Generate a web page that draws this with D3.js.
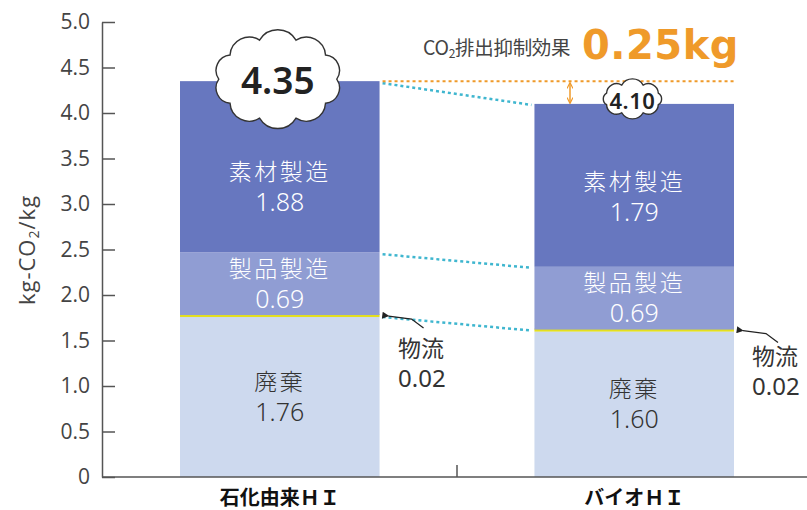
<!DOCTYPE html>
<html>
<head>
<meta charset="utf-8">
<script src="https://cdn.jsdelivr.net/npm/d3@7"></script>
<style>
  body { margin: 0; background: #fff; }
  svg { display: block; }
</style>
</head>
<body>
<div id="chart"></div>
<script>
// data
const categories = ['石化由来ＨＩ', 'バイオＨＩ'];
const stages = ['廃棄', '物流', '製品製造', '素材製造'];
const haiki = [1.76, 1.60];
const butsuryu = [0.02, 0.02];
const seihin = [0.69, 0.69];
const sozai = [1.88, 1.79];
const totals = [4.35, 4.10];
const reduction = 0.25;
const yTicks = [0, 0.5, 1.0, 1.5, 2.0, 2.5, 3.0, 3.5, 4.0, 4.5, 5.0];

const rows = categories.map((c, i) => ({
  cat: c, '廃棄': haiki[i], '物流': butsuryu[i], '製品製造': seihin[i], '素材製造': sozai[i], total: totals[i]
}));

const colors = { '廃棄': '#cdd9ee', '物流': '#e4df1e', '製品製造': '#909dd3', '素材製造': '#6777bf' };
const textColors = { '廃棄': '#333', '製品製造': '#fff', '素材製造': '#fff' };

const W = 807, H = 510;
const svg = d3.select('#chart').append('svg').attr('width', W).attr('height', H);

const defs = svg.append('defs');
defs.append('marker').attr('id', 'arrBlack').attr('viewBox', '0 0 10 10')
  .attr('refX', 1).attr('refY', 5).attr('markerWidth', 9).attr('markerHeight', 7)
  .attr('orient', 'auto-start-reverse').attr('markerUnits', 'userSpaceOnUse')
  .append('path').attr('d', 'M0,5 L10,0 L10,10 Z').attr('fill', '#222');
defs.append('marker').attr('id', 'arrOrange').attr('viewBox', '0 0 10 10')
  .attr('refX', 9).attr('refY', 5).attr('markerWidth', 7).attr('markerHeight', 6)
  .attr('orient', 'auto-start-reverse').attr('markerUnits', 'userSpaceOnUse')
  .append('path').attr('d', 'M0,0 L10,5 L0,10').attr('fill', 'none').attr('stroke', '#ef9a2a').attr('stroke-width', 2);

const y = d3.scaleLinear().domain([0, 5]).range([477, 22]);
const x = d3.scaleBand().domain(categories).range([180, 734]).paddingInner(0.437).paddingOuter(0);
const axisX = 102;

const series = d3.stack().keys(stages)(rows);

// bars
const layers = svg.append('g').selectAll('g').data(series).join('g')
  .attr('fill', d => colors[d.key]);
layers.selectAll('rect').data(d => d.map(v => Object.assign({ key: d.key }, v))).join('rect')
  .attr('x', d => x(d.data.cat))
  .attr('width', x.bandwidth())
  .attr('y', d => d.key === '物流' ? y(d[1]) - 1 : y(d[1]))
  .attr('height', d => d.key === '物流' ? Math.max(3, y(d[0]) - y(d[1]) + 1) : y(d[0]) - y(d[1]));

// cyan connectors between bars
const sLev = series.map(s => s.map(v => v[1]));
const connectorLevels = [3, 2, 1].map(k => sLev[k]);
svg.append('g').selectAll('line').data(connectorLevels).join('line')
  .attr('x1', x(categories[0]) + x.bandwidth() + 3)
  .attr('x2', x(categories[1]) - 3)
  .attr('y1', d => y(d[0]) + 2)
  .attr('y2', d => y(d[1]) + 1)
  .attr('stroke', '#3fb6cf').attr('stroke-width', 2.5).attr('stroke-dasharray', '3,3');

// segment labels
const labelOffset = { '廃棄': 0, '製品製造': 0, '素材製造': 20 };
const labelData = [];
series.forEach(s => {
  if (s.key === '物流') return;
  s.forEach((v, i) => {
    labelData.push({ key: s.key, val: v[1] - v[0], cat: categories[i], mid: (y(v[0]) + y(v[1])) / 2 + labelOffset[s.key] + (s.key === '素材製造' && i === 1 ? -8 : 0) });
  });
});
const lab = svg.append('g').selectAll('g').data(labelData).join('g')
  .attr('transform', d => `translate(${x(d.cat) + x.bandwidth() / 2},${d.mid})`);
lab.append('text').attr('y', -7).attr('text-anchor', 'middle')
  .attr('font-family', '"Noto Sans CJK JP"').attr('font-weight', 300)
  .attr('font-size', 23).attr('letter-spacing', 2.5).attr('fill', d => textColors[d.key])
  .text(d => d.key);
lab.append('text').attr('y', 24).attr('text-anchor', 'middle')
  .attr('font-family', '"Noto Sans"').attr('font-weight', 300)
  .attr('font-size', 25).attr('fill', d => textColors[d.key])
  .text(d => d.val.toFixed(2));

// 物流 callouts
const logiTop = series[1].map(v => y(v[1]) + 1);
const callouts = [
  { cat: categories[0], yy: logiTop[0], lx: 398, ly: 357 },
  { cat: categories[1], yy: logiTop[1], lx: 752, ly: 365 }
];
callouts.forEach((c, i) => {
  const x0 = x(c.cat) + x.bandwidth() + 2;
  svg.append('path')
    .attr('d', `M${x0 + 7},${c.yy} L${x0 + 30},${c.yy + 3} L${x0 + 42},${c.yy + 12}`)
    .attr('fill', 'none').attr('stroke', '#222').attr('stroke-width', 1.3)
    .attr('marker-start', 'url(#arrBlack)');
  svg.append('text').attr('x', c.lx).attr('y', c.ly)
    .attr('font-family', '"Noto Sans CJK JP"').attr('font-size', 23).attr('fill', '#333')
    .text(stages[1]);
  svg.append('text').attr('x', c.lx).attr('y', c.ly + 30)
    .attr('font-family', '"Noto Sans"').attr('font-size', 24).attr('fill', '#333')
    .text(butsuryu[i].toFixed(2));
});

// orange reduction line + arrow
const xR0 = x(categories[0]) + x.bandwidth() + 3;
const xR1 = x(categories[1]) + x.bandwidth();
svg.append('line').attr('x1', xR0).attr('x2', xR1)
  .attr('y1', y(totals[0])).attr('y2', y(totals[0]))
  .attr('stroke', '#ef9a2a').attr('stroke-width', 2).attr('stroke-dasharray', '3,3');
svg.append('line').attr('x1', 570).attr('x2', 570)
  .attr('y1', y(totals[0]) + 2).attr('y2', y(totals[1]) - 1)
  .attr('stroke', '#ef9a2a').attr('stroke-width', 1.5)
  .attr('marker-start', 'url(#arrOrange)').attr('marker-end', 'url(#arrOrange)');

const ann = svg.append('text').attr('x', 423).attr('y', 55)
  .attr('font-family', '"Noto Sans CJK JP"').attr('font-size', 19.5).attr('letter-spacing', -0.3).attr('fill', '#444');
ann.append('tspan').text('CO');
ann.append('tspan').attr('font-size', 12).attr('dy', 3).text('2');
ann.append('tspan').attr('dy', -3).text('排出抑制効果');
svg.append('text').attr('x', 582).attr('y', 59)
  .attr('font-family', '"DejaVu Sans"').attr('font-weight', 'bold').attr('font-size', 40)
  .attr('letter-spacing', 0.5)
  .attr('fill', '#ef9a2a').text(reduction.toFixed(2) + 'kg');

// clouds
function cloudPath(cx, cy, rx, ry, n, rot) {
  const pts = d3.range(n).map(i => {
    const a = rot + i * 2 * Math.PI / n;
    return [cx + rx * Math.cos(a), cy + ry * Math.sin(a)];
  });
  let d = `M${pts[0][0]},${pts[0][1]}`;
  pts.forEach((p, i) => {
    const q = pts[(i + 1) % n];
    const r = Math.hypot(q[0] - p[0], q[1] - p[1]) * 0.58;
    d += ` A${r},${r} 0 0 1 ${q[0]},${q[1]}`;
  });
  return d + 'Z';
}
const clouds = [
  { cx: x(categories[0]) + x.bandwidth() / 2 - 2, cy: y(totals[0]) - 2, rx: 59, ry: 41, n: 10, fs: 37, ls: 0 },
  { cx: x(categories[1]) + 98, cy: y(totals[1]) - 5, rx: 28, ry: 15, n: 8, fs: 22, ls: 0.5 }
];
clouds.forEach((c, i) => {
  svg.append('path').attr('d', cloudPath(c.cx, c.cy, c.rx, c.ry, c.n, -Math.PI / 2 + Math.PI / c.n))
    .attr('fill', '#fff').attr('stroke', '#333').attr('stroke-width', 1.4);
  svg.append('text').attr('x', c.cx).attr('y', c.cy + c.fs * 0.36 + 2)
    .attr('text-anchor', 'middle').attr('letter-spacing', c.ls)
    .attr('font-family', '"Noto Sans"').attr('font-weight', 600).attr('font-size', c.fs)
    .attr('fill', '#222').text(totals[i].toFixed(2));
});

// y axis
const yAxis = svg.append('g').attr('transform', `translate(${axisX},0)`)
  .call(d3.axisLeft(y).tickValues(yTicks).tickSizeInner(-13).tickSizeOuter(0).tickPadding(12)
    .tickFormat(d => d === 0 ? '0' : d3.format('.1f')(d)));
yAxis.select('.domain').attr('stroke', '#555').attr('stroke-width', 1.5);
yAxis.selectAll('.tick line').attr('stroke', '#555').attr('stroke-width', 1.5);
yAxis.selectAll('.tick text').attr('font-family', '"Open Sans"').attr('font-weight', 500)
  .attr('font-size', 21).attr('fill', '#444');

// x axis baseline + divider
svg.append('line').attr('x1', axisX).attr('x2', W).attr('y1', y(0)).attr('y2', y(0))
  .attr('stroke', '#555').attr('stroke-width', 1.5);
const divX = x(categories[1]) - x.step() * x.paddingInner() / 2;
svg.append('line').attr('x1', divX).attr('x2', divX).attr('y1', y(0)).attr('y2', y(0) - 12)
  .attr('stroke', '#555').attr('stroke-width', 1.5);
svg.append('g').selectAll('text').data(categories).join('text')
  .attr('x', d => x(d) + x.bandwidth() / 2).attr('y', 505)
  .attr('text-anchor', 'middle')
  .attr('font-family', '"Noto Sans CJK JP"').attr('font-weight', 'bold').attr('font-size', 20)
  .attr('fill', '#111').text(d => d);

// y axis title
const yt = svg.append('text').attr('transform', 'translate(35,250) rotate(-90)')
  .attr('text-anchor', 'middle').attr('letter-spacing', 1)
  .attr('font-family', '"Open Sans"').attr('font-size', 22).attr('fill', '#444');
yt.append('tspan').text('kg-CO');
yt.append('tspan').attr('font-size', 14).attr('dy', 4).text('2');
yt.append('tspan').attr('dy', -4).text('/kg');
</script>
</body>
</html>
